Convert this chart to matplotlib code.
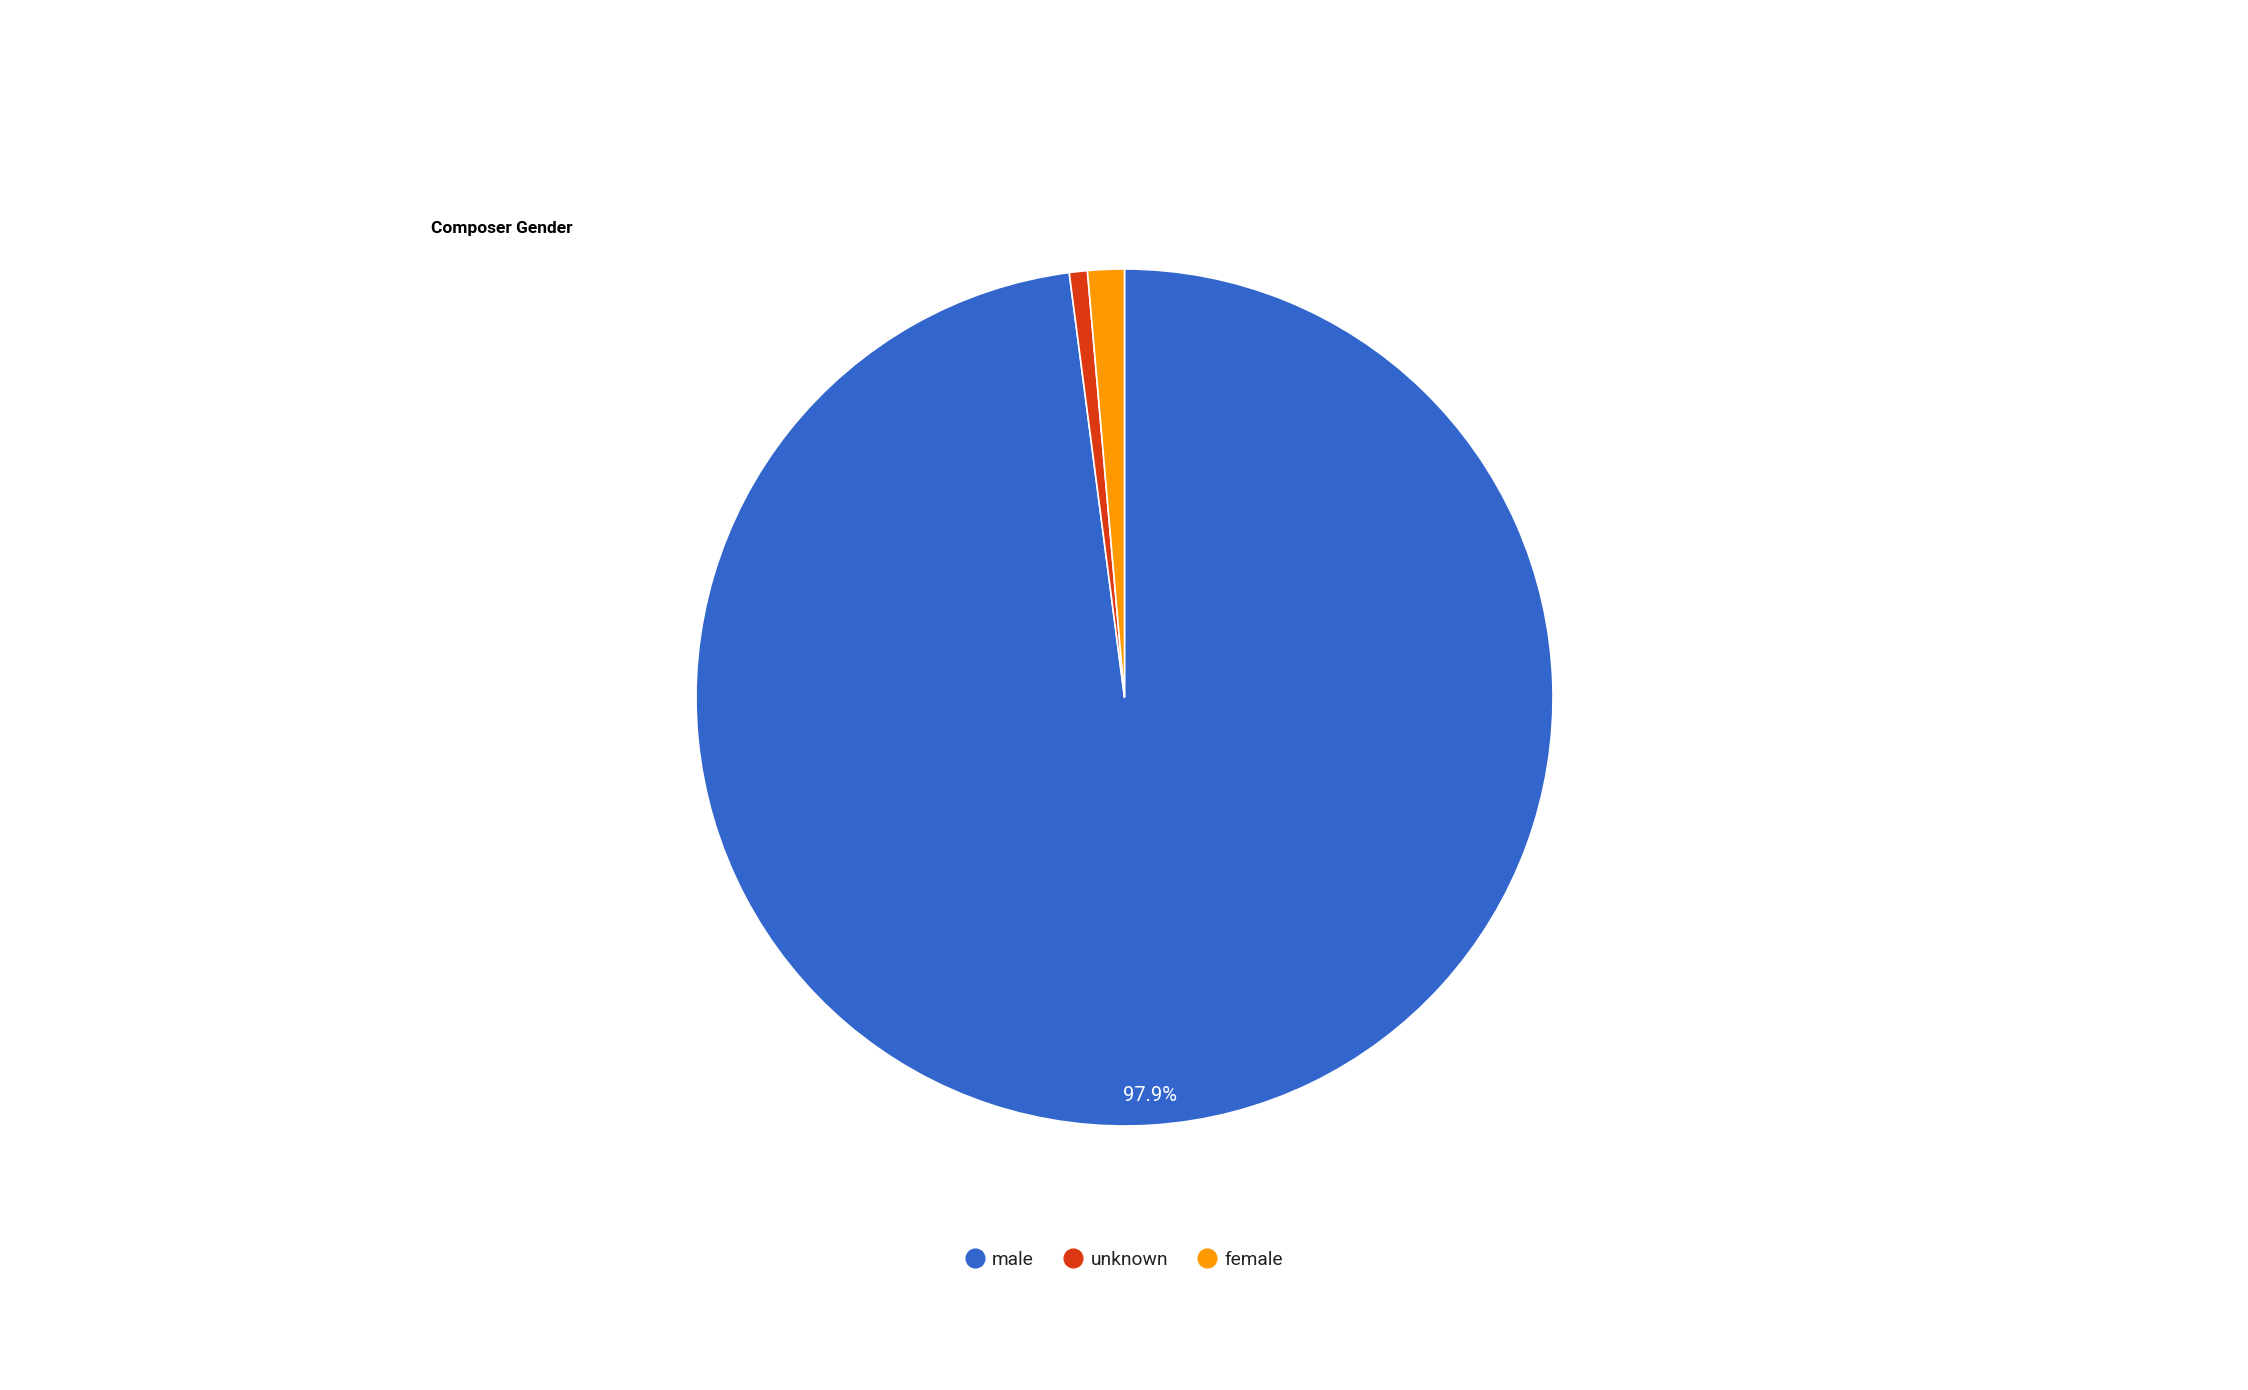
import matplotlib
matplotlib.use("Agg")
import matplotlib.pyplot as plt
from matplotlib.lines import Line2D

# Data
categories = ["male", "unknown", "female"]
shares = [97.94, 0.68, 1.38]
colors = ["#3366cc", "#dc3912", "#ff9900"]
title = "Composer Gender"

plt.rcParams['font.family'] = ['Roboto', 'DejaVu Sans']

W, H = 2248, 1390
fig = plt.figure(figsize=(W / 100, H / 100), dpi=100)

# pie axes
cx, cy, r = 1124.5, 697.5, 428.5
ax = fig.add_axes([(cx - r) / W, (H - cy - r) / H, 2 * r / W, 2 * r / H])
ax.set_xlim(-1, 1)
ax.set_ylim(-1, 1)
ax.set_aspect('equal')
ax.axis('off')

def fmt(p):
    return f"{p:.1f}%" if p > 5 else ""

wedges, texts, autotexts = ax.pie(
    shares, colors=colors, startangle=90, counterclock=False, radius=1,
    autopct=fmt, pctdistance=0.93,
    wedgeprops=dict(edgecolor="white", linewidth=1.2),
    textprops=dict(color="white", fontsize=14.5))
ax.set_xlim(-1, 1)
ax.set_ylim(-1, 1)

fig.text(431 / W, 1 - 228 / H, title, fontsize=12.5, fontweight='bold',
         ha='left', va='center', color='black')

handles = [Line2D([0], [0], marker='o', linestyle='none', markersize=13.5,
                  markerfacecolor=c, markeredgecolor=c) for c in colors]
fig.legend(handles, categories, loc='center', bbox_to_anchor=(1124 / W, 1 - 1260 / H),
           ncol=3, frameon=False, fontsize=13.8, handlelength=1.0, handletextpad=0.4,
           columnspacing=1.55, labelcolor='#222222')

fig.savefig("out.png", dpi=100, facecolor='white')
